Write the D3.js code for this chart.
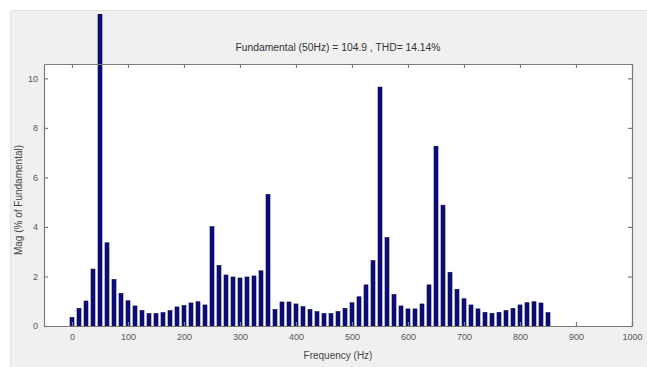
<!DOCTYPE html>
<html><head><meta charset="utf-8">
<script src="https://cdn.jsdelivr.net/npm/d3@7"></script>
<style>html,body{margin:0;padding:0;background:#fff;}svg{display:block;}</style>
</head><body>
<svg id="c" width="647" height="367"></svg>
<script>
const freqs = d3.range(0, 69).map(i => i * 12.5);
const mags = [
 0.35, 0.71, 1.01, 2.30, 100, 3.36, 1.88, 1.32,
 1.02, 0.81, 0.63, 0.50, 0.50, 0.54, 0.62, 0.77,
 0.83, 0.93, 0.98, 0.85, 4.01, 2.45, 2.06, 1.98,
 1.94, 1.98, 2.02, 2.23, 5.31, 0.67, 0.97, 0.97,
 0.89, 0.78, 0.67, 0.58, 0.50, 0.50, 0.58, 0.71,
 0.94, 1.18, 1.66, 2.64, 9.65, 3.57, 1.27, 0.81,
 0.69, 0.69, 0.89, 1.66, 7.26, 4.88, 2.17, 1.48,
 1.10, 0.85, 0.69, 0.55, 0.51, 0.55, 0.62, 0.71,
 0.85, 0.94, 0.98, 0.93, 0.54
];
const xTicks = [0,100,200,300,400,500,600,700,800,900,1000];
const yTicks = [0,2,4,6,8,10];
const titleText = "Fundamental (50Hz) = 104.9 , THD= 14.14%";
const xLabel = "Frequency (Hz)";
const yLabel = "Mag (% of Fundamental)";

const svg = d3.select("#c");
const font = "Liberation Sans, Arial, sans-serif";
// figure panel
svg.append("rect").attr("x",10.5).attr("y",10.5).attr("width",640).attr("height",360)
  .attr("fill","#f0f0f0").attr("stroke","#e2e2e2");

const L=44, R=632, T=64, B=326;
const x = d3.scaleLinear().domain([-50,1000]).range([L,R]);
const y = d3.scaleLinear().domain([0,10.58]).range([B,T]);

svg.append("rect").attr("x",L).attr("y",T).attr("width",R-L).attr("height",B-T).attr("fill","#fff");

svg.append("clipPath").attr("id","fig").append("rect").attr("x",0).attr("y",14).attr("width",647).attr("height",353);

const bw = 4;
svg.append("g").attr("clip-path","url(#fig)").selectAll("rect").data(freqs).join("rect")
  .attr("x", (d)=> x(d)-bw/2)
  .attr("y", (d,i)=> y(mags[i]))
  .attr("width", bw)
  .attr("height", (d,i)=> B - y(mags[i]))
  .attr("fill","#0c0c80").attr("stroke","#0a0a40").attr("stroke-width",0.6);

const axCol = "#7a7a7a";
const fmt = d3.format("d");
// axes: inward ticks
const gB = svg.append("g").attr("transform",`translate(0,${B})`)
  .call(d3.axisBottom(x).tickValues(xTicks).tickSize(-4).tickPadding(8).tickSizeOuter(0).tickFormat(fmt));
const gT = svg.append("g").attr("transform",`translate(0,${T})`)
  .call(d3.axisTop(x).tickValues(xTicks).tickSize(-4).tickSizeOuter(0).tickFormat(""));
const gL = svg.append("g").attr("transform",`translate(${L},0)`)
  .call(d3.axisLeft(y).tickValues(yTicks).tickSize(-4).tickPadding(6).tickSizeOuter(0).tickFormat(fmt));
const gR = svg.append("g").attr("transform",`translate(${R},0)`)
  .call(d3.axisRight(y).tickValues(yTicks).tickSize(-4).tickSizeOuter(0).tickFormat(""));
[gB,gT,gL,gR].forEach(g=>{
  g.selectAll("path,line").attr("stroke",axCol).attr("stroke-width",1.2);
  g.selectAll("text").attr("fill","#555").attr("font-family",font).attr("font-size",9);
});

svg.append("text").attr("x",338).attr("y",51).attr("text-anchor","middle")
  .attr("font-family",font).attr("font-size",10).attr("fill","#333")
  .attr("textLength",205).attr("lengthAdjust","spacingAndGlyphs").text(titleText);
svg.append("text").attr("x",338).attr("y",359).attr("text-anchor","middle")
  .attr("font-family",font).attr("font-size",10).attr("fill","#444").text(xLabel);
svg.append("text").attr("transform","translate(22,200) rotate(-90)").attr("text-anchor","middle")
  .attr("font-family",font).attr("font-size",10).attr("fill","#444").text(yLabel);
</script>
</body></html>
